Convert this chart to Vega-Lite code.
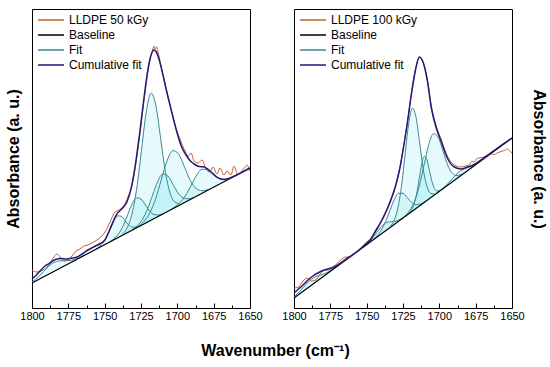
{
"$schema": "https://vega.github.io/schema/vega-lite/v6.json",
"autosize": {"type": "pad"},
"padding": {"left": 4, "top": 8, "right": 0, "bottom": 0},
"bounds": "flush",
"spacing": 44,
"background": "white",
"title": {"text": "Wavenumber (cm⁻¹)", "orient": "bottom", "anchor": "middle", "fontSize": 16, "fontWeight": "bold", "font": "Liberation Sans", "color": "#000", "offset": 19},
"config": {
  "font": "Liberation Sans",
  "view": {"stroke": "#000", "strokeWidth": 1},
  "legend": {"symbolType": "M-1,0H4.2", "symbolSize": 100, "symbolStrokeWidth": 1.5, "labelFontSize": 12, "labelColor": "#000", "labelFont": "Liberation Sans", "rowPadding": 3, "labelOffset": 20, "padding": 0, "offset": 5, "orient": "top-left"}
},
"resolve": {"scale": {"color": "independent"}, "legend": {"color": "independent"}},
"datasets": {
"L": [
{"s":"Baseline","c":"b","w":1800,"v":25},{"s":"Baseline","c":"b","w":1650,"v":140},
{"s":"Fit","c":"f0","w":1764,"v":52.7,"b":52.6},{"s":"Fit","c":"f0","w":1767.5,"v":50.3,"b":49.9},{"s":"Fit","c":"f0","w":1771,"v":48.4,"b":47.2},{"s":"Fit","c":"f0","w":1774.5,"v":47.5,"b":44.6},{"s":"Fit","c":"f0","w":1778,"v":47.4,"b":41.9},{"s":"Fit","c":"f0","w":1781.5,"v":47.1,"b":39.2},{"s":"Fit","c":"f0","w":1785,"v":45.5,"b":36.5},{"s":"Fit","c":"f0","w":1788.5,"v":41.7,"b":33.8},{"s":"Fit","c":"f0","w":1792,"v":36.6,"b":31.1},{"s":"Fit","c":"f0","w":1795.5,"v":31.4,"b":28.5},{"s":"Fit","c":"f0","w":1799,"v":27.0,"b":25.8},{"s":"Fit","c":"f0","w":1800,"v":25.9,"b":25.0},
{"s":"Fit","c":"f1","w":1726,"v":81.9,"b":81.7},{"s":"Fit","c":"f1","w":1728.5,"v":80.8,"b":79.8},{"s":"Fit","c":"f1","w":1731,"v":80.9,"b":77.9},{"s":"Fit","c":"f1","w":1733.5,"v":83.1,"b":76.0},{"s":"Fit","c":"f1","w":1736,"v":87.4,"b":74.1},{"s":"Fit","c":"f1","w":1738.5,"v":91.6,"b":72.2},{"s":"Fit","c":"f1","w":1741,"v":92.2,"b":70.2},{"s":"Fit","c":"f1","w":1743.5,"v":87.7,"b":68.3},{"s":"Fit","c":"f1","w":1746,"v":79.7,"b":66.4},{"s":"Fit","c":"f1","w":1748.5,"v":71.6,"b":64.5},{"s":"Fit","c":"f1","w":1751,"v":65.6,"b":62.6},{"s":"Fit","c":"f1","w":1753.5,"v":61.7,"b":60.7},{"s":"Fit","c":"f1","w":1756,"v":58.9,"b":58.7},
{"s":"Fit","c":"f2","w":1710,"v":94.3,"b":94.0},{"s":"Fit","c":"f2","w":1713,"v":93.0,"b":91.7},{"s":"Fit","c":"f2","w":1716,"v":93.5,"b":89.4},{"s":"Fit","c":"f2","w":1719,"v":96.8,"b":87.1},{"s":"Fit","c":"f2","w":1722,"v":103.0,"b":84.8},{"s":"Fit","c":"f2","w":1725,"v":109.0,"b":82.5},{"s":"Fit","c":"f2","w":1728,"v":110.2,"b":80.2},{"s":"Fit","c":"f2","w":1731,"v":104.4,"b":77.9},{"s":"Fit","c":"f2","w":1734,"v":93.8,"b":75.6},{"s":"Fit","c":"f2","w":1737,"v":83.0,"b":73.3},{"s":"Fit","c":"f2","w":1740,"v":75.1,"b":71.0},{"s":"Fit","c":"f2","w":1743,"v":70.0,"b":68.7},{"s":"Fit","c":"f2","w":1746,"v":66.7,"b":66.4},
{"s":"Fit","c":"f3","w":1698.5,"v":104.2,"b":102.8},{"s":"Fit","c":"f3","w":1701.75,"v":105.9,"b":100.3},{"s":"Fit","c":"f3","w":1705,"v":115.0,"b":97.8},{"s":"Fit","c":"f3","w":1708.25,"v":136.5,"b":95.3},{"s":"Fit","c":"f3","w":1711.5,"v":169.8,"b":92.8},{"s":"Fit","c":"f3","w":1714.75,"v":202.4,"b":90.3},{"s":"Fit","c":"f3","w":1718,"v":214.9,"b":87.9},{"s":"Fit","c":"f3","w":1721.25,"v":197.5,"b":85.4},{"s":"Fit","c":"f3","w":1724.5,"v":159.9,"b":82.9},{"s":"Fit","c":"f3","w":1727.75,"v":121.6,"b":80.4},{"s":"Fit","c":"f3","w":1731,"v":95.1,"b":77.9},{"s":"Fit","c":"f3","w":1734.25,"v":81.0,"b":75.4},{"s":"Fit","c":"f3","w":1737.5,"v":74.3,"b":72.9},
{"s":"Fit","c":"f4","w":1689,"v":110.5,"b":110.1},{"s":"Fit","c":"f4","w":1692.5,"v":109.2,"b":107.4},{"s":"Fit","c":"f4","w":1696,"v":110.1,"b":104.7},{"s":"Fit","c":"f4","w":1699.5,"v":115.0,"b":102.0},{"s":"Fit","c":"f4","w":1703,"v":123.6,"b":99.3},{"s":"Fit","c":"f4","w":1706.5,"v":132.0,"b":96.7},{"s":"Fit","c":"f4","w":1710,"v":134.0,"b":94.0},{"s":"Fit","c":"f4","w":1713.5,"v":126.6,"b":91.3},{"s":"Fit","c":"f4","w":1717,"v":112.9,"b":88.6},{"s":"Fit","c":"f4","w":1720.5,"v":99.0,"b":86.0},{"s":"Fit","c":"f4","w":1724,"v":88.7,"b":83.3},{"s":"Fit","c":"f4","w":1727.5,"v":82.4,"b":80.6},{"s":"Fit","c":"f4","w":1731,"v":78.3,"b":77.9},
{"s":"Fit","c":"f5","w":1679,"v":118.4,"b":117.8},{"s":"Fit","c":"f5","w":1683,"v":117.3,"b":114.7},{"s":"Fit","c":"f5","w":1687,"v":119.5,"b":111.7},{"s":"Fit","c":"f5","w":1691,"v":127.4,"b":108.6},{"s":"Fit","c":"f5","w":1695,"v":140.7,"b":105.5},{"s":"Fit","c":"f5","w":1699,"v":153.7,"b":102.5},{"s":"Fit","c":"f5","w":1703,"v":157.4,"b":99.4},{"s":"Fit","c":"f5","w":1707,"v":147.5,"b":96.3},{"s":"Fit","c":"f5","w":1711,"v":128.5,"b":93.3},{"s":"Fit","c":"f5","w":1715,"v":109.0,"b":90.2},{"s":"Fit","c":"f5","w":1719,"v":95.0,"b":87.1},{"s":"Fit","c":"f5","w":1723,"v":86.6,"b":84.0},{"s":"Fit","c":"f5","w":1727,"v":81.6,"b":81.0},
{"s":"Fit","c":"f6","w":1662,"v":131.1,"b":130.8},{"s":"Fit","c":"f6","w":1665.5,"v":129.2,"b":128.1},{"s":"Fit","c":"f6","w":1669,"v":128.7,"b":125.4},{"s":"Fit","c":"f6","w":1672.5,"v":130.6,"b":122.8},{"s":"Fit","c":"f6","w":1676,"v":134.7,"b":120.1},{"s":"Fit","c":"f6","w":1679.5,"v":138.6,"b":117.4},{"s":"Fit","c":"f6","w":1683,"v":138.7,"b":114.7},{"s":"Fit","c":"f6","w":1686.5,"v":133.2,"b":112.0},{"s":"Fit","c":"f6","w":1690,"v":123.9,"b":109.3},{"s":"Fit","c":"f6","w":1693.5,"v":114.5,"b":106.7},{"s":"Fit","c":"f6","w":1697,"v":107.3,"b":104.0},{"s":"Fit","c":"f6","w":1700.5,"v":102.4,"b":101.3},{"s":"Fit","c":"f6","w":1704,"v":98.9,"b":98.6},
{"s":"Cumulative fit","c":"cf","w":1800,"v":29},{"s":"Cumulative fit","c":"cf","w":1797,"v":33},{"s":"Cumulative fit","c":"cf","w":1794.5,"v":37},{"s":"Cumulative fit","c":"cf","w":1791,"v":42},{"s":"Cumulative fit","c":"cf","w":1787.6,"v":45},{"s":"Cumulative fit","c":"cf","w":1784,"v":48.5},{"s":"Cumulative fit","c":"cf","w":1780,"v":49.5},{"s":"Cumulative fit","c":"cf","w":1776,"v":49},{"s":"Cumulative fit","c":"cf","w":1772,"v":50},{"s":"Cumulative fit","c":"cf","w":1769,"v":51},{"s":"Cumulative fit","c":"cf","w":1765,"v":54.5},{"s":"Cumulative fit","c":"cf","w":1761.5,"v":58},{"s":"Cumulative fit","c":"cf","w":1757,"v":61.5},{"s":"Cumulative fit","c":"cf","w":1753,"v":64.5},{"s":"Cumulative fit","c":"cf","w":1750,"v":67.7},{"s":"Cumulative fit","c":"cf","w":1746,"v":80.1},{"s":"Cumulative fit","c":"cf","w":1742,"v":93.2},{"s":"Cumulative fit","c":"cf","w":1738,"v":99.5},{"s":"Cumulative fit","c":"cf","w":1735,"v":105},{"s":"Cumulative fit","c":"cf","w":1732,"v":118.3},{"s":"Cumulative fit","c":"cf","w":1729,"v":141.9},{"s":"Cumulative fit","c":"cf","w":1726,"v":173.7},{"s":"Cumulative fit","c":"cf","w":1723,"v":209.4},{"s":"Cumulative fit","c":"cf","w":1720,"v":240.3},{"s":"Cumulative fit","c":"cf","w":1718,"v":253.2},{"s":"Cumulative fit","c":"cf","w":1716,"v":257.9},{"s":"Cumulative fit","c":"cf","w":1714,"v":254.6},{"s":"Cumulative fit","c":"cf","w":1712,"v":245.6},{"s":"Cumulative fit","c":"cf","w":1710,"v":233.6},{"s":"Cumulative fit","c":"cf","w":1708,"v":220.6},{"s":"Cumulative fit","c":"cf","w":1706,"v":208.5},{"s":"Cumulative fit","c":"cf","w":1704,"v":196.7},{"s":"Cumulative fit","c":"cf","w":1702,"v":185.2},{"s":"Cumulative fit","c":"cf","w":1700,"v":174.2},{"s":"Cumulative fit","c":"cf","w":1697,"v":161},{"s":"Cumulative fit","c":"cf","w":1694,"v":153},{"s":"Cumulative fit","c":"cf","w":1691,"v":147},{"s":"Cumulative fit","c":"cf","w":1688,"v":143.5},{"s":"Cumulative fit","c":"cf","w":1685,"v":141.5},{"s":"Cumulative fit","c":"cf","w":1682,"v":141.2},{"s":"Cumulative fit","c":"cf","w":1679,"v":138.8},{"s":"Cumulative fit","c":"cf","w":1676,"v":134.9},{"s":"Cumulative fit","c":"cf","w":1672,"v":130.1},{"s":"Cumulative fit","c":"cf","w":1668,"v":128.6},{"s":"Cumulative fit","c":"cf","w":1664,"v":129.9},{"s":"Cumulative fit","c":"cf","w":1660,"v":132.4},{"s":"Cumulative fit","c":"cf","w":1655,"v":136.2},{"s":"Cumulative fit","c":"cf","w":1650,"v":140.0},
{"s":"LLDPE 50 kGy","c":"sp","w":1800,"v":38},{"s":"LLDPE 50 kGy","c":"sp","w":1796.6,"v":36},{"s":"LLDPE 50 kGy","c":"sp","w":1792.4,"v":38},{"s":"LLDPE 50 kGy","c":"sp","w":1789,"v":42},{"s":"LLDPE 50 kGy","c":"sp","w":1785.5,"v":50},{"s":"LLDPE 50 kGy","c":"sp","w":1782.8,"v":54},{"s":"LLDPE 50 kGy","c":"sp","w":1780.7,"v":51},{"s":"LLDPE 50 kGy","c":"sp","w":1778,"v":47},{"s":"LLDPE 50 kGy","c":"sp","w":1775.2,"v":48},{"s":"LLDPE 50 kGy","c":"sp","w":1772.5,"v":52},{"s":"LLDPE 50 kGy","c":"sp","w":1769.7,"v":57},{"s":"LLDPE 50 kGy","c":"sp","w":1767,"v":59},{"s":"LLDPE 50 kGy","c":"sp","w":1764.2,"v":62},{"s":"LLDPE 50 kGy","c":"sp","w":1761.5,"v":63},{"s":"LLDPE 50 kGy","c":"sp","w":1758.7,"v":65},{"s":"LLDPE 50 kGy","c":"sp","w":1755.3,"v":68},{"s":"LLDPE 50 kGy","c":"sp","w":1752.5,"v":71},{"s":"LLDPE 50 kGy","c":"sp","w":1749.8,"v":76},{"s":"LLDPE 50 kGy","c":"sp","w":1746.3,"v":86},{"s":"LLDPE 50 kGy","c":"sp","w":1742.9,"v":96},{"s":"LLDPE 50 kGy","c":"sp","w":1740,"v":98},{"s":"LLDPE 50 kGy","c":"sp","w":1737,"v":102},{"s":"LLDPE 50 kGy","c":"sp","w":1734,"v":111},{"s":"LLDPE 50 kGy","c":"sp","w":1731,"v":124},{"s":"LLDPE 50 kGy","c":"sp","w":1728,"v":150},{"s":"LLDPE 50 kGy","c":"sp","w":1725,"v":183},{"s":"LLDPE 50 kGy","c":"sp","w":1722,"v":218},{"s":"LLDPE 50 kGy","c":"sp","w":1719,"v":247},{"s":"LLDPE 50 kGy","c":"sp","w":1717,"v":258},{"s":"LLDPE 50 kGy","c":"sp","w":1716,"v":262},{"s":"LLDPE 50 kGy","c":"sp","w":1715.2,"v":259},{"s":"LLDPE 50 kGy","c":"sp","w":1714.3,"v":261},{"s":"LLDPE 50 kGy","c":"sp","w":1713,"v":254},{"s":"LLDPE 50 kGy","c":"sp","w":1711,"v":241},{"s":"LLDPE 50 kGy","c":"sp","w":1709,"v":228},{"s":"LLDPE 50 kGy","c":"sp","w":1707,"v":215},{"s":"LLDPE 50 kGy","c":"sp","w":1705,"v":203},{"s":"LLDPE 50 kGy","c":"sp","w":1703,"v":191},{"s":"LLDPE 50 kGy","c":"sp","w":1701,"v":180},{"s":"LLDPE 50 kGy","c":"sp","w":1698.2,"v":169},{"s":"LLDPE 50 kGy","c":"sp","w":1694.7,"v":157},{"s":"LLDPE 50 kGy","c":"sp","w":1692.7,"v":152},{"s":"LLDPE 50 kGy","c":"sp","w":1690.6,"v":155},{"s":"LLDPE 50 kGy","c":"sp","w":1688.5,"v":147},{"s":"LLDPE 50 kGy","c":"sp","w":1685.8,"v":145},{"s":"LLDPE 50 kGy","c":"sp","w":1683,"v":148},{"s":"LLDPE 50 kGy","c":"sp","w":1680.3,"v":139},{"s":"LLDPE 50 kGy","c":"sp","w":1677.5,"v":136},{"s":"LLDPE 50 kGy","c":"sp","w":1675.5,"v":141},{"s":"LLDPE 50 kGy","c":"sp","w":1672.7,"v":134},{"s":"LLDPE 50 kGy","c":"sp","w":1670.6,"v":140},{"s":"LLDPE 50 kGy","c":"sp","w":1667.9,"v":133},{"s":"LLDPE 50 kGy","c":"sp","w":1665.8,"v":137},{"s":"LLDPE 50 kGy","c":"sp","w":1663.1,"v":133},{"s":"LLDPE 50 kGy","c":"sp","w":1661,"v":142},{"s":"LLDPE 50 kGy","c":"sp","w":1658.3,"v":133},{"s":"LLDPE 50 kGy","c":"sp","w":1656.2,"v":136},{"s":"LLDPE 50 kGy","c":"sp","w":1653.4,"v":141},{"s":"LLDPE 50 kGy","c":"sp","w":1652.1,"v":143},{"s":"LLDPE 50 kGy","c":"sp","w":1650,"v":137}
],
"R": [
{"s":"Baseline","c":"b","w":1800,"v":10},{"s":"Baseline","c":"b","w":1650,"v":170},
{"s":"Fit","c":"g0","w":1770,"v":42.1,"b":42.0},{"s":"Fit","c":"g0","w":1773,"v":39.1,"b":38.8},{"s":"Fit","c":"g0","w":1776,"v":36.4,"b":35.6},{"s":"Fit","c":"g0","w":1779,"v":34.4,"b":32.4},{"s":"Fit","c":"g0","w":1782,"v":32.8,"b":29.2},{"s":"Fit","c":"g0","w":1785,"v":31.3,"b":26.0},{"s":"Fit","c":"g0","w":1788,"v":28.8,"b":22.8},{"s":"Fit","c":"g0","w":1791,"v":24.9,"b":19.6},{"s":"Fit","c":"g0","w":1794,"v":20.0,"b":16.4},{"s":"Fit","c":"g0","w":1797,"v":15.2,"b":13.2},{"s":"Fit","c":"g0","w":1800,"v":10.8,"b":10.0},
{"s":"Fit","c":"g1","w":1723,"v":92.2,"b":92.1},{"s":"Fit","c":"g1","w":1725.5,"v":89.8,"b":89.5},{"s":"Fit","c":"g1","w":1728,"v":87.9,"b":86.8},{"s":"Fit","c":"g1","w":1730.5,"v":86.7,"b":84.1},{"s":"Fit","c":"g1","w":1733,"v":86.3,"b":81.5},{"s":"Fit","c":"g1","w":1735.5,"v":85.9,"b":78.8},{"s":"Fit","c":"g1","w":1738,"v":84.1,"b":76.1},{"s":"Fit","c":"g1","w":1740.5,"v":80.5,"b":73.5},{"s":"Fit","c":"g1","w":1743,"v":75.6,"b":70.8},{"s":"Fit","c":"g1","w":1745.5,"v":70.7,"b":68.1},{"s":"Fit","c":"g1","w":1748,"v":66.6,"b":65.5},{"s":"Fit","c":"g1","w":1750.5,"v":63.2,"b":62.8},{"s":"Fit","c":"g1","w":1753,"v":60.2,"b":60.1},
{"s":"Fit","c":"g2","w":1710,"v":106.3,"b":106.0},{"s":"Fit","c":"g2","w":1713,"v":104.0,"b":102.8},{"s":"Fit","c":"g2","w":1716,"v":103.4,"b":99.6},{"s":"Fit","c":"g2","w":1719,"v":105.5,"b":96.4},{"s":"Fit","c":"g2","w":1722,"v":110.2,"b":93.2},{"s":"Fit","c":"g2","w":1725,"v":114.7,"b":90.0},{"s":"Fit","c":"g2","w":1728,"v":114.8,"b":86.8},{"s":"Fit","c":"g2","w":1731,"v":108.3,"b":83.6},{"s":"Fit","c":"g2","w":1734,"v":97.4,"b":80.4},{"s":"Fit","c":"g2","w":1737,"v":86.3,"b":77.2},{"s":"Fit","c":"g2","w":1740,"v":77.8,"b":74.0},{"s":"Fit","c":"g2","w":1743,"v":72.0,"b":70.8},{"s":"Fit","c":"g2","w":1746,"v":67.9,"b":67.6},
{"s":"Fit","c":"g3","w":1703.5,"v":114.0,"b":112.9},{"s":"Fit","c":"g3","w":1706,"v":114.8,"b":110.3},{"s":"Fit","c":"g3","w":1708.5,"v":121.5,"b":107.6},{"s":"Fit","c":"g3","w":1711,"v":138.3,"b":104.9},{"s":"Fit","c":"g3","w":1713.5,"v":164.8,"b":102.3},{"s":"Fit","c":"g3","w":1716,"v":190.5,"b":99.6},{"s":"Fit","c":"g3","w":1718.5,"v":199.9,"b":96.9},{"s":"Fit","c":"g3","w":1721,"v":185.2,"b":94.3},{"s":"Fit","c":"g3","w":1723.5,"v":154.1,"b":91.6},{"s":"Fit","c":"g3","w":1726,"v":122.3,"b":88.9},{"s":"Fit","c":"g3","w":1728.5,"v":100.2,"b":86.3},{"s":"Fit","c":"g3","w":1731,"v":88.1,"b":83.6},{"s":"Fit","c":"g3","w":1733.5,"v":82.0,"b":80.9},
{"s":"Fit","c":"g4","w":1684.5,"v":133.9,"b":133.2},{"s":"Fit","c":"g4","w":1687.75,"v":132.4,"b":129.7},{"s":"Fit","c":"g4","w":1691,"v":134.7,"b":126.3},{"s":"Fit","c":"g4","w":1694.25,"v":142.9,"b":122.8},{"s":"Fit","c":"g4","w":1697.5,"v":156.9,"b":119.3},{"s":"Fit","c":"g4","w":1700.75,"v":170.6,"b":115.9},{"s":"Fit","c":"g4","w":1704,"v":174.4,"b":112.4},{"s":"Fit","c":"g4","w":1707.25,"v":163.6,"b":108.9},{"s":"Fit","c":"g4","w":1710.5,"v":143.1,"b":105.5},{"s":"Fit","c":"g4","w":1713.75,"v":122.1,"b":102.0},{"s":"Fit","c":"g4","w":1717,"v":106.9,"b":98.5},{"s":"Fit","c":"g4","w":1720.25,"v":97.8,"b":95.1},{"s":"Fit","c":"g4","w":1723.5,"v":92.3,"b":91.6},
{"s":"Fit","c":"g5","w":1700,"v":117.2,"b":116.7},{"s":"Fit","c":"g5","w":1701.5,"v":117.1,"b":115.1},{"s":"Fit","c":"g5","w":1703.3,"v":119.3,"b":113.1},{"s":"Fit","c":"g5","w":1705,"v":126.2,"b":111.3},{"s":"Fit","c":"g5","w":1706.8,"v":137.3,"b":109.4},{"s":"Fit","c":"g5","w":1708.5,"v":148.2,"b":107.6},{"s":"Fit","c":"g5","w":1710.3,"v":151.7,"b":105.7},{"s":"Fit","c":"g5","w":1712,"v":144.5,"b":103.9},{"s":"Fit","c":"g5","w":1713.8,"v":129.8,"b":101.9},{"s":"Fit","c":"g5","w":1715.5,"v":115.0,"b":100.1},{"s":"Fit","c":"g5","w":1717.3,"v":104.4,"b":98.2},{"s":"Fit","c":"g5","w":1719,"v":98.4,"b":96.4},{"s":"Fit","c":"g5","w":1720.8,"v":95.0,"b":94.5},
{"s":"Fit","c":"g6","w":1671,"v":147.7,"b":147.6},{"s":"Fit","c":"g6","w":1673.5,"v":145.1,"b":144.9},{"s":"Fit","c":"g6","w":1676,"v":143.0,"b":142.3},{"s":"Fit","c":"g6","w":1678.5,"v":141.2,"b":139.6},{"s":"Fit","c":"g6","w":1681,"v":139.9,"b":136.9},{"s":"Fit","c":"g6","w":1683.5,"v":138.7,"b":134.3},{"s":"Fit","c":"g6","w":1686,"v":136.6,"b":131.6},{"s":"Fit","c":"g6","w":1688.5,"v":133.3,"b":128.9},{"s":"Fit","c":"g6","w":1691,"v":129.3,"b":126.3},{"s":"Fit","c":"g6","w":1693.5,"v":125.2,"b":123.6},{"s":"Fit","c":"g6","w":1696,"v":121.6,"b":120.9},{"s":"Fit","c":"g6","w":1698.5,"v":118.5,"b":118.3},{"s":"Fit","c":"g6","w":1701,"v":115.7,"b":115.6},
{"s":"Cumulative fit","c":"cf","w":1800,"v":15},{"s":"Cumulative fit","c":"cf","w":1797,"v":19},{"s":"Cumulative fit","c":"cf","w":1794.5,"v":22},{"s":"Cumulative fit","c":"cf","w":1790.4,"v":28},{"s":"Cumulative fit","c":"cf","w":1787,"v":32},{"s":"Cumulative fit","c":"cf","w":1783.6,"v":35},{"s":"Cumulative fit","c":"cf","w":1780,"v":37.5},{"s":"Cumulative fit","c":"cf","w":1776.7,"v":39},{"s":"Cumulative fit","c":"cf","w":1773.5,"v":40.5},{"s":"Cumulative fit","c":"cf","w":1770.5,"v":42.5},{"s":"Cumulative fit","c":"cf","w":1767,"v":46},{"s":"Cumulative fit","c":"cf","w":1763.7,"v":49.5},{"s":"Cumulative fit","c":"cf","w":1760,"v":53},{"s":"Cumulative fit","c":"cf","w":1757.5,"v":55.5},{"s":"Cumulative fit","c":"cf","w":1754,"v":59.5},{"s":"Cumulative fit","c":"cf","w":1750.7,"v":64},{"s":"Cumulative fit","c":"cf","w":1747,"v":69},{"s":"Cumulative fit","c":"cf","w":1743.8,"v":77},{"s":"Cumulative fit","c":"cf","w":1740.5,"v":85},{"s":"Cumulative fit","c":"cf","w":1737.7,"v":93},{"s":"Cumulative fit","c":"cf","w":1733.6,"v":107},{"s":"Cumulative fit","c":"cf","w":1730.1,"v":122},{"s":"Cumulative fit","c":"cf","w":1727.4,"v":138},{"s":"Cumulative fit","c":"cf","w":1724.7,"v":160},{"s":"Cumulative fit","c":"cf","w":1721.9,"v":186},{"s":"Cumulative fit","c":"cf","w":1719.2,"v":214},{"s":"Cumulative fit","c":"cf","w":1716.4,"v":238},{"s":"Cumulative fit","c":"cf","w":1713.7,"v":251},{"s":"Cumulative fit","c":"cf","w":1711,"v":245},{"s":"Cumulative fit","c":"cf","w":1708.2,"v":227},{"s":"Cumulative fit","c":"cf","w":1705.5,"v":200},{"s":"Cumulative fit","c":"cf","w":1702.1,"v":180},{"s":"Cumulative fit","c":"cf","w":1698.6,"v":166},{"s":"Cumulative fit","c":"cf","w":1694.5,"v":150},{"s":"Cumulative fit","c":"cf","w":1689.7,"v":141},{"s":"Cumulative fit","c":"cf","w":1684.9,"v":139},{"s":"Cumulative fit","c":"cf","w":1680.8,"v":141},{"s":"Cumulative fit","c":"cf","w":1676.7,"v":143},{"s":"Cumulative fit","c":"cf","w":1670,"v":149.3},{"s":"Cumulative fit","c":"cf","w":1660,"v":160},{"s":"Cumulative fit","c":"cf","w":1650,"v":170},
{"s":"LLDPE 100 kGy","c":"sp","w":1800,"v":20},{"s":"LLDPE 100 kGy","c":"sp","w":1797,"v":21},{"s":"LLDPE 100 kGy","c":"sp","w":1793.8,"v":27},{"s":"LLDPE 100 kGy","c":"sp","w":1791,"v":30},{"s":"LLDPE 100 kGy","c":"sp","w":1788,"v":27},{"s":"LLDPE 100 kGy","c":"sp","w":1785,"v":28},{"s":"LLDPE 100 kGy","c":"sp","w":1782,"v":34},{"s":"LLDPE 100 kGy","c":"sp","w":1779,"v":38},{"s":"LLDPE 100 kGy","c":"sp","w":1776,"v":38},{"s":"LLDPE 100 kGy","c":"sp","w":1773,"v":41},{"s":"LLDPE 100 kGy","c":"sp","w":1770,"v":45},{"s":"LLDPE 100 kGy","c":"sp","w":1767,"v":49},{"s":"LLDPE 100 kGy","c":"sp","w":1764,"v":51},{"s":"LLDPE 100 kGy","c":"sp","w":1761,"v":51},{"s":"LLDPE 100 kGy","c":"sp","w":1758,"v":55},{"s":"LLDPE 100 kGy","c":"sp","w":1754,"v":60},{"s":"LLDPE 100 kGy","c":"sp","w":1750.7,"v":65},{"s":"LLDPE 100 kGy","c":"sp","w":1747,"v":70},{"s":"LLDPE 100 kGy","c":"sp","w":1743.8,"v":78},{"s":"LLDPE 100 kGy","c":"sp","w":1740.5,"v":86},{"s":"LLDPE 100 kGy","c":"sp","w":1737.7,"v":94},{"s":"LLDPE 100 kGy","c":"sp","w":1733.6,"v":108},{"s":"LLDPE 100 kGy","c":"sp","w":1730.1,"v":123},{"s":"LLDPE 100 kGy","c":"sp","w":1727.4,"v":139},{"s":"LLDPE 100 kGy","c":"sp","w":1724.7,"v":161},{"s":"LLDPE 100 kGy","c":"sp","w":1721.9,"v":187},{"s":"LLDPE 100 kGy","c":"sp","w":1719.2,"v":215},{"s":"LLDPE 100 kGy","c":"sp","w":1716.4,"v":239},{"s":"LLDPE 100 kGy","c":"sp","w":1713.7,"v":251},{"s":"LLDPE 100 kGy","c":"sp","w":1711,"v":245},{"s":"LLDPE 100 kGy","c":"sp","w":1708.2,"v":228},{"s":"LLDPE 100 kGy","c":"sp","w":1705.5,"v":202},{"s":"LLDPE 100 kGy","c":"sp","w":1702.1,"v":182},{"s":"LLDPE 100 kGy","c":"sp","w":1698.6,"v":168},{"s":"LLDPE 100 kGy","c":"sp","w":1694.5,"v":152},{"s":"LLDPE 100 kGy","c":"sp","w":1689.7,"v":143},{"s":"LLDPE 100 kGy","c":"sp","w":1684.9,"v":141},{"s":"LLDPE 100 kGy","c":"sp","w":1682,"v":142},{"s":"LLDPE 100 kGy","c":"sp","w":1679.5,"v":143},{"s":"LLDPE 100 kGy","c":"sp","w":1677.5,"v":147},{"s":"LLDPE 100 kGy","c":"sp","w":1676,"v":146},{"s":"LLDPE 100 kGy","c":"sp","w":1674.5,"v":149},{"s":"LLDPE 100 kGy","c":"sp","w":1673.3,"v":150},{"s":"LLDPE 100 kGy","c":"sp","w":1671,"v":150.5},{"s":"LLDPE 100 kGy","c":"sp","w":1669.2,"v":151},{"s":"LLDPE 100 kGy","c":"sp","w":1666.5,"v":153},{"s":"LLDPE 100 kGy","c":"sp","w":1664.4,"v":154},{"s":"LLDPE 100 kGy","c":"sp","w":1662,"v":153.5},{"s":"LLDPE 100 kGy","c":"sp","w":1660.3,"v":155},{"s":"LLDPE 100 kGy","c":"sp","w":1658.5,"v":156},{"s":"LLDPE 100 kGy","c":"sp","w":1656.8,"v":157},{"s":"LLDPE 100 kGy","c":"sp","w":1655,"v":157.5},{"s":"LLDPE 100 kGy","c":"sp","w":1653.4,"v":159},{"s":"LLDPE 100 kGy","c":"sp","w":1651.4,"v":157},{"s":"LLDPE 100 kGy","c":"sp","w":1650,"v":155}
]
},
"hconcat": [
{
  "width": 218, "height": 299,
  "data": {"name": "L"},
  "encoding": {
    "x": {"field": "w", "type": "quantitative", "scale": {"domain": [1650, 1800], "reverse": true, "nice": false, "zero": false},
      "axis": {"values": [1800,1787.5,1775,1762.5,1750,1737.5,1725,1712.5,1700,1687.5,1675,1662.5,1650], "labelExpr": "datum.value % 25 == 0 ? format(datum.value, 'd') : ''", "tickSize": {"condition": {"test": "datum.value % 25 != 0", "value": -3}, "value": -5}, "tickColor": "#000", "labelPadding": 7, "labelFontSize": 11, "labelColor": "#000", "labelFlush": false, "labelOverlap": false, "labelBound": false, "domain": false, "grid": false, "title": null}},
    "y": {"field": "v", "type": "quantitative", "scale": {"domain": [0, 299], "nice": false, "zero": false},
      "axis": {"title": "Absorbance (a. u.)", "ticks": false, "labels": false, "domain": false, "grid": false, "titleFontSize": 16, "titleFontWeight": "bold", "titleColor": "#000", "titlePadding": 11}}
  },
  "layer": [
    {"transform": [{"filter": "datum.s == 'Fit'"}], "mark": {"type": "area", "interpolate": "monotone", "fill": "#a6eef2", "opacity": 0.3}, "encoding": {"y2": {"field": "b"}, "detail": {"field": "c"}}},
    {"transform": [{"filter": "datum.s == 'Fit'"}], "mark": {"type": "line", "interpolate": "monotone", "strokeWidth": 1},
      "encoding": {"detail": {"field": "c"}, "color": {"field": "s", "type": "nominal", "scale": {"domain": ["LLDPE 50 kGy", "Baseline", "Fit", "Cumulative fit"], "range": ["#c0602a", "#000000", "#3a8795", "#26177a"]}, "legend": {"title": null}}}},
    {"transform": [{"filter": "datum.s == 'Baseline'"}], "mark": {"type": "line", "strokeWidth": 1.2},
      "encoding": {"color": {"field": "s", "type": "nominal", "scale": {"domain": ["LLDPE 50 kGy", "Baseline", "Fit", "Cumulative fit"], "range": ["#c0602a", "#000000", "#3a8795", "#26177a"]}, "legend": {"title": null}}}},
    {"transform": [{"filter": "datum.s == 'LLDPE 50 kGy'"}], "mark": {"type": "line", "interpolate": "monotone", "strokeWidth": 1},
      "encoding": {"color": {"field": "s", "type": "nominal", "scale": {"domain": ["LLDPE 50 kGy", "Baseline", "Fit", "Cumulative fit"], "range": ["#c0602a", "#000000", "#3a8795", "#26177a"]}, "legend": {"title": null}}}},
    {"transform": [{"filter": "datum.s == 'Cumulative fit'"}], "mark": {"type": "line", "interpolate": "monotone", "strokeWidth": 1.5},
      "encoding": {"color": {"field": "s", "type": "nominal", "scale": {"domain": ["LLDPE 50 kGy", "Baseline", "Fit", "Cumulative fit"], "range": ["#c0602a", "#000000", "#3a8795", "#26177a"]}, "legend": {"title": null}}}}
  ]
},
{
  "width": 218, "height": 299,
  "data": {"name": "R"},
  "encoding": {
    "x": {"field": "w", "type": "quantitative", "scale": {"domain": [1650, 1800], "reverse": true, "nice": false, "zero": false},
      "axis": {"values": [1800,1787.5,1775,1762.5,1750,1737.5,1725,1712.5,1700,1687.5,1675,1662.5,1650], "labelExpr": "datum.value % 25 == 0 ? format(datum.value, 'd') : ''", "tickSize": {"condition": {"test": "datum.value % 25 != 0", "value": -3}, "value": -5}, "tickColor": "#000", "labelPadding": 7, "labelFontSize": 11, "labelColor": "#000", "labelFlush": false, "labelOverlap": false, "labelBound": false, "domain": false, "grid": false, "title": null}},
    "y": {"field": "v", "type": "quantitative", "scale": {"domain": [0, 299], "nice": false, "zero": false},
      "axis": {"orient": "right", "title": "Absorbance (a. u.)", "ticks": false, "labels": false, "domain": false, "grid": false, "titleFontSize": 16, "titleFontWeight": "bold", "titleColor": "#000", "titlePadding": 18}}
  },
  "layer": [
    {"transform": [{"filter": "datum.s == 'Fit'"}], "mark": {"type": "area", "interpolate": "monotone", "fill": "#a6eef2", "opacity": 0.3}, "encoding": {"y2": {"field": "b"}, "detail": {"field": "c"}}},
    {"transform": [{"filter": "datum.s == 'Fit'"}], "mark": {"type": "line", "interpolate": "monotone", "strokeWidth": 1},
      "encoding": {"detail": {"field": "c"}, "color": {"field": "s", "type": "nominal", "scale": {"domain": ["LLDPE 100 kGy", "Baseline", "Fit", "Cumulative fit"], "range": ["#c0602a", "#000000", "#3a8795", "#26177a"]}, "legend": {"title": null}}}},
    {"transform": [{"filter": "datum.s == 'Baseline'"}], "mark": {"type": "line", "strokeWidth": 1.2},
      "encoding": {"color": {"field": "s", "type": "nominal", "scale": {"domain": ["LLDPE 100 kGy", "Baseline", "Fit", "Cumulative fit"], "range": ["#c0602a", "#000000", "#3a8795", "#26177a"]}, "legend": {"title": null}}}},
    {"transform": [{"filter": "datum.s == 'LLDPE 100 kGy'"}], "mark": {"type": "line", "interpolate": "monotone", "strokeWidth": 1},
      "encoding": {"color": {"field": "s", "type": "nominal", "scale": {"domain": ["LLDPE 100 kGy", "Baseline", "Fit", "Cumulative fit"], "range": ["#c0602a", "#000000", "#3a8795", "#26177a"]}, "legend": {"title": null}}}},
    {"transform": [{"filter": "datum.s == 'Cumulative fit'"}], "mark": {"type": "line", "interpolate": "monotone", "strokeWidth": 1.5},
      "encoding": {"color": {"field": "s", "type": "nominal", "scale": {"domain": ["LLDPE 100 kGy", "Baseline", "Fit", "Cumulative fit"], "range": ["#c0602a", "#000000", "#3a8795", "#26177a"]}, "legend": {"title": null}}}}
  ]
}
]
}
